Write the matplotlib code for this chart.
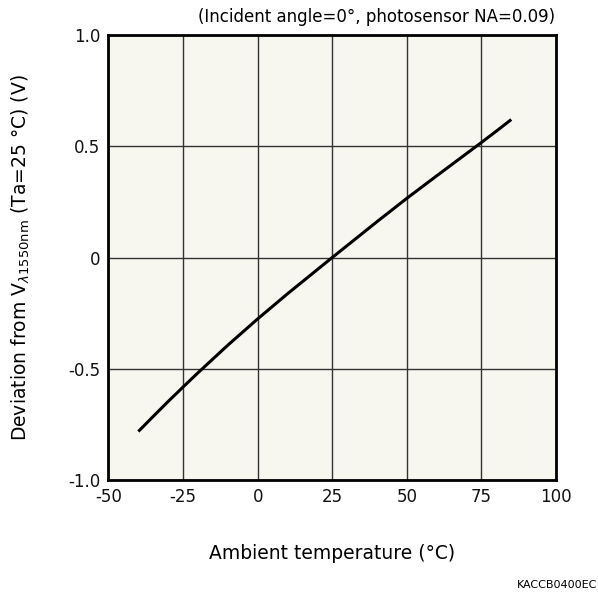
import matplotlib.pyplot as plt

# Output deviation vs ambient temperature
temperature = [-40, -35, -30, -25, -20, -10, 0, 10, 25, 40, 50, 60, 70, 75, 80, 85]
deviation = [-0.782, -0.714, -0.647, -0.582, -0.518, -0.394, -0.276, -0.163,
             0.0, 0.161, 0.266, 0.367, 0.467, 0.517, 0.568, 0.620]

x_ticks = [-50, -25, 0, 25, 50, 75, 100]
y_ticks = [-1.0, -0.5, 0, 0.5, 1.0]
y_tick_labels = ["-1.0", "-0.5", "0", "0.5", "1.0"]

plt.rcParams["font.family"] = ["DejaVu Sans"]
plt.rcParams["axes.unicode_minus"] = False

fig = plt.figure(figsize=(5.98, 5.96), dpi=100)
ax = fig.add_axes([0.1814, 0.1946, 0.7484, 0.7467])
ax.set_facecolor("#f7f6ef")

ax.plot(temperature, deviation, color="black", linewidth=2.2,
        solid_capstyle="butt", zorder=3)

ax.set_xlim(-50, 100)
ax.set_ylim(-1.0, 1.0)
ax.set_xticks(x_ticks)
ax.set_yticks(y_ticks)
ax.set_yticklabels(y_tick_labels)
ax.tick_params(length=0, labelsize=12, pad=6, colors="#111111")
ax.grid(True, color="#333333", linewidth=1.0)
ax.set_axisbelow(True)
for side in ax.spines.values():
    side.set_linewidth(2.0)
    side.set_color("black")

ax.set_xlabel("Ambient temperature (°C)", fontsize=13.5, labelpad=27)
ax.set_ylabel(r"Deviation from V$_{\lambda 1550\mathrm{nm}}$ (Ta=25 °C) (V)",
              fontsize=13.5, labelpad=26)

fig.text(0.929, 0.971, "(Incident angle=0°, photosensor NA=0.09)",
         ha="right", va="center", fontsize=12)
fig.text(0.998, 0.01, "KACCB0400EC", ha="right", va="bottom",
         fontsize=8, family="Liberation Sans Narrow")

fig.savefig("out.png", dpi=100)
